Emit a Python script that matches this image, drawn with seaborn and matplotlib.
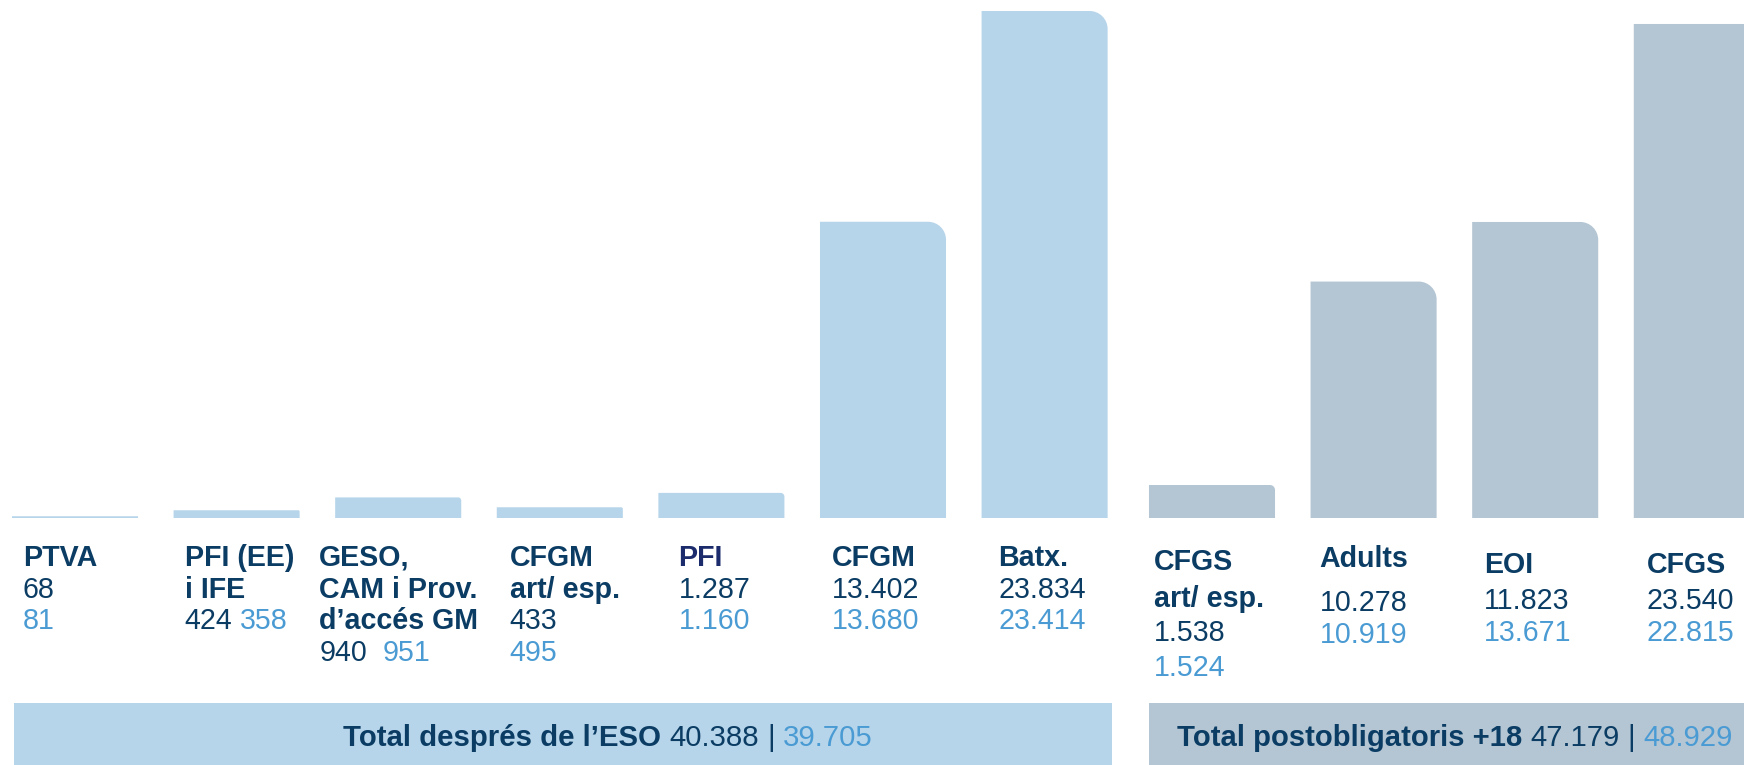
import matplotlib
matplotlib.use("Agg")
import numpy as np
import pandas as pd
import matplotlib.pyplot as plt
import seaborn as sns
from matplotlib.path import Path
from matplotlib.patches import PathPatch, Rectangle

# data
categories = ["PTVA", "PFI (EE)\ni IFE", "GESO,\nCAM i Prov.\nd’accés GM", "CFGM\nart/ esp.",
              "PFI", "CFGM", "Batx.", "CFGS\nart/ esp.", "Adults", "EOI", "CFGS"]
groups = ["eso"] * 7 + ["post18"] * 4
values_prev = [68, 424, 940, 433, 1287, 13402, 23834, 1538, 10278, 11823, 23540]
values_curr = [81, 358, 951, 495, 1160, 13680, 23414, 1524, 10919, 13671, 22815]
total_names = ["Total després de l’ESO", "Total postobligatoris +18"]
total_prev = [40388, 47179]
total_curr = [39705, 48929]

W, H = 1744, 765
dark = "#0b3c64"
light = "#4a9bd3"
navy = "#1b2b6b"
bar_colors = {"eso": "#b7d5ea", "post18": "#b4c6d3"}

sns.set_style("white")
plt.rcParams["font.family"] = ["Liberation Sans", "DejaVu Sans"]


def fmt(v):
    return f"{v:,}".replace(",", ".")


df = pd.DataFrame({"cat": categories, "group": groups, "prev": values_prev, "curr": values_curr})

fig = plt.figure(figsize=(W / 100, H / 100), dpi=100)
step = 161.6  # px between bar centres
# one axes per group: (group, left px, right px, centre of first bar px)
panels = [("eso", 0, 1130, 75), ("post18", 1130, W, 1212)]
axes = {}
for grp, p0, p1, c0 in panels:
    ax = fig.add_axes([p0 / W, 247 / H, (p1 - p0) / W, 507 / H])
    sub = df[df["group"] == grp]
    sns.barplot(data=sub, x="cat", y="curr", color=bar_colors[grp], order=list(sub["cat"]),
                width=0.78, saturation=1, ax=ax)
    ax.set_xlim((p0 - c0) / step, (p1 - c0) / step)
    ax.set_ylim(0, max(values_curr))
    ax.axis("off")
    axes[grp] = ax

# swap the plain bars for ones with a rounded top-right corner
k = 0.5523
for ax in axes.values():
    sx = ax.transData.transform((1, 0))[0] - ax.transData.transform((0, 0))[0]
    sy = ax.transData.transform((0, 1))[1] - ax.transData.transform((0, 0))[1]
    for bar in list(ax.patches):
        x0, w, h = bar.get_x(), bar.get_width(), bar.get_height()
        if h <= 0:
            continue
        r = min(18, 0.15 * h * sy)
        rx, ry = r / sx, r / sy
        x1 = x0 + w
        verts = [(x0, 0), (x0, h), (x1 - rx, h), (x1 - rx * (1 - k), h), (x1, h - ry * (1 - k)),
                 (x1, h - ry), (x1, 0), (x0, 0)]
        codes = [Path.MOVETO, Path.LINETO, Path.LINETO, Path.CURVE4, Path.CURVE4, Path.CURVE4,
                 Path.LINETO, Path.CLOSEPOLY]
        ax.add_patch(PathPatch(Path(verts, codes), facecolor=bar.get_facecolor(), edgecolor="none"))
        bar.remove()

renderer = fig.canvas.get_renderer()


def put_runs(runs, x, y, size, center=False, gap_em=0.28):
    # runs of text on one line, placed one after another (pixel coords from top-left)
    texts = [fig.text(0, 0, s, color=c, fontsize=size, fontweight=wt, va="baseline", ha="left")
             for s, c, wt in runs]
    widths = [t.get_window_extent(renderer).width for t in texts]
    gaps = [gap_em * size * 100 / 72] * (len(runs) - 1) + [0]
    total = sum(widths) + sum(gaps)
    cur = x - total / 2 if center else x
    for t, w, g in zip(texts, widths, gaps):
        t.set_position((cur / W, 1 - y / H))
        cur += w + g


# labels under the bars
x_off = [-52, -52, -79, -50, -43, -51, -46, -58, -54, -51, -50]
left_lines = [566 + 31.6 * i for i in range(5)]
baselines = [left_lines] * 7 + [[570, 607, 641, 676], [567, 611, 643], [573, 609, 641], [573, 609, 641]]
shared_line = {1: 0.28, 2: 0.56}
fs = 20.6
for i, cat in enumerate(categories):
    ax = axes[groups[i]]
    j0 = groups.index(groups[i])
    xc = ax.transData.transform((i - j0, 0))[0] + x_off[i]
    ys = baselines[i]
    title = cat.split("\n")
    tcol = navy if cat == "PFI" else dark
    for j, line in enumerate(title):
        put_runs([(line, tcol, "bold")], xc, ys[j], fs)
    n = len(title)
    if i in shared_line:
        put_runs([(fmt(values_prev[i]), dark, "normal"), (fmt(values_curr[i]), light, "normal")],
                 xc, ys[n], fs, gap_em=shared_line[i])
    else:
        put_runs([(fmt(values_prev[i]), dark, "normal")], xc, ys[n], fs)
        put_runs([(fmt(values_curr[i]), light, "normal")], xc, ys[n + 1], fs)

# total banners
banners = [(14, 1112, bar_colors["eso"], 608, 21.2), (1149, W, bar_colors["post18"], 1455, 21.1)]
for (bx0, bx1, col, tx, size), name, p, c in zip(banners, total_names, total_prev, total_curr):
    fig.patches.append(Rectangle((bx0 / W, 0), (bx1 - bx0) / W, (H - 703) / H,
                                 transform=fig.transFigure, facecolor=col, edgecolor="none", zorder=0))
    put_runs([(name, dark, "bold"), (fmt(p), dark, "normal"), ("|", dark, "normal"),
              (fmt(c), light, "normal")], tx, 746, size, center=True)

fig.savefig("out.png", dpi=100)
